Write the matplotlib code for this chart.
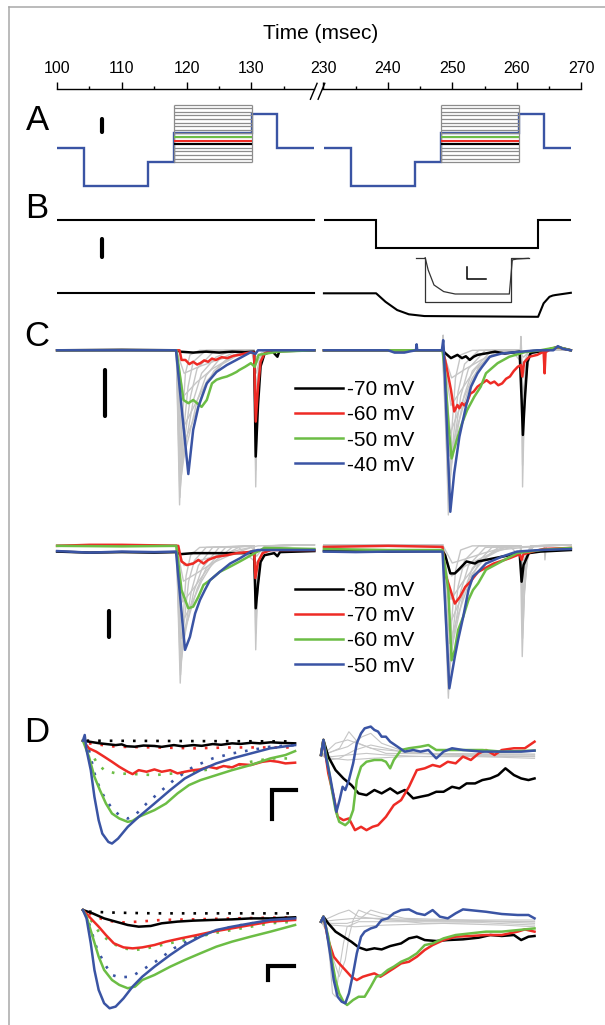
import matplotlib
matplotlib.use("Agg")
import matplotlib.pyplot as plt
from matplotlib.lines import Line2D

plt.rcParams['font.family'] = ['Liberation Sans', 'DejaVu Sans']

W, H = 605, 1025
BLUE = '#3a54a4'
RED = '#ee2b25'
GREEN = '#6cbd45'
GRAY = '#c6c6c6'
BOXGRAY = '#8c8c8c'

# ---------------- time axis ----------------
left_major = [100, 110, 120, 130]
left_minor = [105, 115, 125, 135]
right_major = [230, 240, 250, 260, 270]
right_minor = [235, 245, 255, 265]

# ---------------- A: command protocol (mV) ----------------
a_left_edges = [100, 104.1, 114.1, 118.1, 130.0, 133.9, 139.7]
a_right_edges = [230.1, 234.2, 244.2, 248.2, 260.2, 264.0, 268.2]
a_levels = [-80, -185, -120, -40, 15, -80]
a_box_left = (118.1, 130.1)
a_box_right = (248.2, 260.2)
a_grid_levels = [-120, -110, -100, -90, -80, -70, -60, -50, -40, -30, -20, -10, 0, 10, 20, 30, 40]
a_color_levels = [-70, -60, -50]
a_color_names = ['black', RED, GREEN]
a_bar = (107.0, 0, -35)

# ---------------- B ----------------
b_cmd_right_edges = [230.1, 238.15, 263.15, 268.2]
b_cmd_levels = [0, -14.8, 0]
b_bar = (107.0, -10, -20)
b_cur_right = [(230.1, 0), (238.15, 0), (239.6, -34), (241.4, -67), (243.2, -84), (245.6, -91),
               (263.15, -94), (264.0, -40), (264.9, -14), (265.4, -9), (265.8, -7), (268.2, 2)]
inset_cmd = [(0, 0), (1.86, 0), (1.86, -1), (19.06, -1), (19.06, 0), (22.7, 0)]
inset_cur = [(1.86, 0), (2.46, -0.28), (3.62, -0.62), (5.56, -0.77), (7.86, -0.825), (18.7, -0.825),
             (19.3, -0.05), (20.2, -0.03), (22.5, -0.014)]
inset_bar = [(14.0, -0.49), (10.3, -0.49), (10.3, -0.22)]

# ---------------- C top (nA) ----------------
ct_bar = (107.4, -0.43, -1.43)
ct_l_black = [(100, 0), (110, 0.01), (118.5, 0), (119, -0.03), (121, -0.05), (123, -0.03), (125, -0.05),
              (127, -0.03), (129, -0.04), (130.4, -0.03), (130.65, -2.31), (131.0, -1.2), (131.4, -0.35),
              (132.0, -0.08), (133.2, -0.02), (134.0, -0.14), (134.3, -0.02), (139.7, 0)]
ct_l_red = [(100, 0), (118.9, 0), (119.2, -0.21), (119.8, -0.21), (120.4, -0.3), (121.0, -0.25), (121.6, -0.31),
            (122.1, -0.28), (122.7, -0.22), (123.3, -0.25), (123.9, -0.18), (124.5, -0.21), (125.4, -0.15),
            (126.3, -0.17), (127.2, -0.12), (128.1, -0.10), (129.6, -0.05), (130.4, -0.05),
            (130.65, -1.55), (131.0, -0.8), (131.4, -0.25), (132.0, -0.07), (133, 0), (139.7, 0)]
ct_l_green = [(100, 0), (118.4, 0), (119.5, -1.08), (120.25, -1.15), (121.0, -1.08), (122.3, -1.23),
              (123.1, -1.08), (123.9, -0.72), (124.6, -0.64), (125.4, -0.6), (126.2, -0.57), (127.0, -0.52),
              (127.7, -0.47), (128.1, -0.43), (129.0, -0.36), (129.9, -0.28), (130.5, -0.36), (131.1, -0.10),
              (134, -0.03), (139.7, 0)]
ct_l_blue = [(100, 0), (118.35, 0), (119.2, -1.23), (120.25, -2.69), (121.0, -1.73), (121.8, -1.23),
             (123.1, -0.72), (124.6, -0.47), (126.2, -0.32), (128.2, -0.17), (129.9, -0.04), (130.6, -0.08),
             (131.0, 0), (139.7, 0)]
ct_l_gray = [
    [(100, 0), (118.4, 0), (118.9, -3.36), (119.3, -1.6), (119.8, -0.5), (120.5, -0.1), (122, 0), (130.4, 0),
     (130.65, -2.97), (130.9, -1.4), (131.3, -0.35), (132, 0), (139.7, 0)],
    [(100, 0), (118.4, 0), (118.95, -3.2), (119.5, -1.8), (120.2, -0.8), (121.0, -0.25), (123, 0), (130.4, 0),
     (130.65, -2.6), (130.9, -1.2), (131.3, -0.3), (132, 0), (139.7, 0)],
    [(100, 0), (118.4, 0), (119.0, -3.0), (119.7, -1.9), (120.6, -1.0), (121.6, -0.4), (124, -0.05), (126, 0),
     (130.4, 0), (130.65, -2.2), (130.95, -1.0), (131.4, -0.25), (132.2, 0), (139.7, 0)],
    [(100, 0), (118.4, 0), (119.1, -2.8), (119.9, -2.0), (121.0, -1.1), (122.3, -0.5), (124.5, -0.15), (127, 0),
     (130.4, 0), (130.7, -1.7), (131.0, -0.8), (131.5, -0.2), (132.3, 0), (139.7, 0)],
    [(100, 0), (118.4, 0), (119.2, -2.5), (120.3, -1.9), (121.6, -1.1), (123.0, -0.55), (125, -0.2), (128, 0),
     (130.4, 0), (130.7, -1.2), (131.0, -0.6), (131.6, -0.15), (132.5, 0), (139.7, 0)],
    [(100, 0), (118.4, 0), (119.3, -2.1), (120.8, -1.6), (122.5, -0.9), (124.2, -0.45), (126.5, -0.15),
     (129.5, 0), (130.4, 0), (130.7, -0.8), (131.1, -0.4), (131.7, -0.1), (132.6, 0), (139.7, 0)],
    [(100, 0), (118.4, 0), (119.4, -1.7), (121.2, -1.2), (123.2, -0.65), (125.5, -0.3), (128, -0.1), (130, 0),
     (130.7, -0.5), (131.2, -0.25), (132, -0.05), (133, 0), (139.7, 0)],
    [(100, 0), (118.4, 0), (119.5, -1.0), (121.5, -0.7), (124, -0.4), (127, -0.15), (130, 0), (130.7, -0.3),
     (131.3, -0.15), (132.5, 0), (139.7, 0)],
    [(100, 0), (118.4, 0), (119.6, -0.5), (122, -0.35), (125, -0.2), (128, -0.08), (130, 0), (130.8, -0.15),
     (132, 0), (139.7, 0)],
]
ct_r_black = [(230.1, 0), (240, 0), (248.4, 0), (248.8, -0.06), (249.7, -0.17), (250.7, -0.10), (251.4, -0.17),
              (252.0, -0.13), (252.6, -0.21), (253.2, -0.14), (253.8, -0.10), (255.0, -0.07), (256.5, -0.03),
              (258.0, -0.07), (260.3, -0.03), (260.6, -1.07), (260.8, -1.84), (261.1, -1.07), (261.5, -0.25),
              (262.0, -0.06), (264, -0.01), (266.2, 0.07), (268.2, 0)]
ct_r_red = [(230.1, 0), (248.4, 0), (248.8, -0.21), (249.7, -0.86), (250.2, -1.33), (250.7, -1.19),
            (251.0, -1.26), (251.4, -1.15), (251.8, -1.2), (252.2, -1.12), (252.7, -0.94), (253.2, -0.9),
            (253.8, -0.79), (254.5, -0.72), (255.2, -0.65), (255.8, -0.72), (256.4, -0.68), (257.0, -0.76),
            (257.6, -0.72), (258.2, -0.62), (258.8, -0.57), (259.4, -0.45), (260.0, -0.36), (260.5, -0.32),
            (260.7, -0.57), (261.0, -0.26), (261.8, -0.14), (263.0, -0.10), (264.0, -0.03), (264.15, -0.5),
            (264.3, -0.04), (264.8, 0), (266.0, 0.07), (268.2, 0)]
ct_r_green = [(230.1, 0), (248.4, 0), (248.8, -0.5), (249.3, -1.59), (249.8, -2.35), (250.6, -1.95),
              (251.4, -1.59), (252.2, -1.3), (253.3, -1.01), (254.3, -0.79), (255.1, -0.5), (256.9, -0.28),
              (258.7, -0.14), (261.1, -0.04), (263.5, 0), (266.2, 0.07), (268.2, 0)]
ct_r_blue = [(230.1, 0), (240.0, 0), (241.0, -0.05), (242.5, -0.05), (243.5, -0.02), (244.3, 0), (244.4, 0.13),
             (244.5, 0), (248.3, 0), (248.5, 0.22), (248.6, 0), (249.6, -3.51), (250.2, -2.67), (251.0, -1.88),
             (252.0, -1.23), (252.8, -0.79), (253.8, -0.5), (254.5, -0.36), (255.7, -0.14), (257.5, -0.07),
             (260.5, -0.03), (263, 0), (265.5, 0), (266.2, 0.09), (267, 0.03), (268.2, 0)]
ct_r_gray = [
    [(230.1, 0), (248.4, 0), (248.5, 0.33), (248.6, 0), (249.3, -3.58), (249.8, -1.8), (250.4, -0.6),
     (251.2, -0.1), (253, 0), (260.4, 0), (260.5, 0.3), (260.6, 0), (260.75, -2.97), (261.0, -1.4),
     (261.4, -0.35), (262.2, 0), (268.2, 0)],
    [(230.1, 0), (248.4, 0), (249.35, -3.3), (250.0, -2.0), (250.8, -0.9), (251.8, -0.3), (254, 0), (260.5, 0),
     (260.75, -2.5), (261.05, -1.1), (261.5, -0.3), (262.3, 0), (268.2, 0)],
    [(230.1, 0), (248.4, 0), (249.4, -3.0), (250.2, -2.0), (251.2, -1.0), (252.4, -0.4), (255, 0), (260.5, 0),
     (260.8, -2.0), (261.1, -0.9), (261.6, -0.25), (262.4, 0), (268.2, 0)],
    [(230.1, 0), (248.4, 0), (249.45, -2.7), (250.5, -1.9), (251.7, -1.0), (253.0, -0.45), (256, 0), (260.5, 0),
     (260.8, -1.5), (261.1, -0.7), (261.7, -0.2), (262.5, 0), (268.2, 0)],
    [(230.1, 0), (248.4, 0), (249.5, -2.3), (250.8, -1.6), (252.3, -0.9), (254, -0.35), (257, 0), (260.5, 0),
     (260.8, -1.0), (261.2, -0.5), (261.8, -0.1), (262.6, 0), (268.2, 0)],
    [(230.1, 0), (248.4, 0), (249.6, -1.8), (251.2, -1.2), (253, -0.6), (255, -0.2), (258, 0), (260.5, 0),
     (260.85, -0.6), (261.3, -0.3), (262, -0.05), (263, 0), (268.2, 0)],
    [(230.1, 0), (248.4, 0), (249.7, -1.2), (251.6, -0.8), (253.5, -0.4), (256, -0.1), (259, 0), (260.85, -0.3),
     (261.5, -0.1), (263, 0), (268.2, 0)],
    [(230.1, 0), (248.4, 0), (249.8, -0.6), (252, -0.4), (254.5, -0.2), (257, -0.05), (260, 0), (260.9, -0.15),
     (262, 0), (268.2, 0)],
]
ct_labels = ['-70 mV', '-60 mV', '-50 mV', '-40 mV']

# ---------------- C bottom (nA) ----------------
cb_bar = (108.0, -1.17, -1.67)
cb_l_black = [(100, -0.03), (105, -0.05), (110, -0.04), (115, -0.05), (118.4, -0.04), (119, -0.08),
              (121, -0.06), (125, -0.06), (129, -0.06), (130.4, -0.06), (130.65, -1.12), (131.0, -0.67),
              (131.4, -0.23), (132.0, -0.1), (133.5, -0.06), (134.0, -0.12), (134.4, -0.04), (139.7, -0.02)]
cb_l_red = [(100, 0.08), (105, 0.1), (110, 0.1), (115, 0.09), (118.7, 0.08), (119.2, -0.22), (120.0, -0.29),
            (121.0, -0.26), (121.8, -0.19), (122.6, -0.26), (123.3, -0.19), (124.6, -0.13), (126.2, -0.1),
            (127.7, -0.06), (129.5, -0.04), (130.4, -0.02), (130.6, -0.54), (131.0, -0.23), (131.7, -0.06),
            (133, 0), (139.7, 0)]
cb_l_green = [(100, 0.08), (110, 0.07), (118.4, 0.08), (119.2, -0.77), (120.25, -1.12), (121.0, -1.09),
              (121.8, -0.9), (122.6, -0.67), (123.6, -0.58), (125.1, -0.42), (126.7, -0.32), (128.2, -0.22),
              (129.5, -0.13), (130.5, -0.06), (132, 0.04), (139.7, 0.02)]
cb_l_blue = [(100, -0.02), (105, -0.05), (110, -0.03), (115, -0.04), (118.35, -0.03), (119.5, -1.6),
             (119.74, -1.92), (120.5, -1.67), (121.3, -1.22), (122.05, -0.96), (122.8, -0.77), (123.6, -0.58),
             (125.1, -0.42), (126.7, -0.26), (128.2, -0.16), (129.9, -0.03), (131, 0), (139.7, 0)]
cb_l_gray = [
    [(100, 0.1), (118.4, 0.1), (119.0, -2.56), (119.4, -1.4), (119.9, -0.5), (120.6, -0.1), (122, 0.05),
     (130.4, 0.08), (130.65, -1.92), (130.9, -0.9), (131.3, -0.2), (132, 0.08), (139.7, 0.1)],
    [(100, 0.1), (118.4, 0.1), (119.05, -2.4), (119.6, -1.4), (120.3, -0.6), (121.2, -0.2), (123, 0.05),
     (130.4, 0.08), (130.65, -1.6), (130.95, -0.75), (131.4, -0.15), (132.2, 0.08), (139.7, 0.1)],
    [(100, 0.1), (118.4, 0.1), (119.1, -2.2), (119.8, -1.5), (120.7, -0.8), (121.8, -0.3), (124, 0.05),
     (130.4, 0.08), (130.7, -1.3), (131.0, -0.6), (131.5, -0.12), (132.3, 0.08), (139.7, 0.1)],
    [(100, 0.1), (118.4, 0.1), (119.15, -2.0), (120.0, -1.45), (121.1, -0.8), (122.4, -0.35), (125, 0.05),
     (130.4, 0.08), (130.7, -1.0), (131.1, -0.45), (131.6, -0.1), (132.4, 0.08), (139.7, 0.1)],
    [(100, 0.1), (118.4, 0.1), (119.2, -1.7), (120.3, -1.3), (121.6, -0.75), (123.0, -0.35), (126, 0.05),
     (130.4, 0.08), (130.75, -0.7), (131.2, -0.3), (131.8, -0.05), (132.6, 0.08), (139.7, 0.1)],
    [(100, 0.1), (118.4, 0.1), (119.3, -1.4), (120.7, -1.05), (122.3, -0.6), (124, -0.25), (127, 0.05),
     (130.4, 0.08), (130.75, -0.45), (131.3, -0.2), (132, 0), (133, 0.08), (139.7, 0.1)],
    [(100, 0.1), (118.4, 0.1), (119.4, -1.0), (121, -0.75), (123, -0.4), (125, -0.15), (128, 0.05),
     (130.8, -0.25), (131.5, -0.1), (133, 0.08), (139.7, 0.1)],
    [(100, 0.1), (118.4, 0.1), (119.5, -0.6), (121.5, -0.45), (124, -0.25), (127, -0.08), (130, 0.05),
     (130.8, -0.12), (132, 0.08), (139.7, 0.1)],
    [(100, 0.1), (118.4, 0.1), (119.6, -0.3), (122, -0.2), (125, -0.1), (128, 0), (131, 0.08), (139.7, 0.1)],
]
cb_r_black = [(230.1, -0.02), (240, -0.03), (248.4, -0.02), (248.8, -0.1), (249.6, -0.45), (250.3, -0.45),
              (251.1, -0.35), (252.1, -0.22), (253.4, -0.26), (253.9, -0.22), (256.3, -0.16), (258.7, -0.1),
              (260.3, -0.06), (260.6, -0.61), (260.9, -0.29), (261.7, -0.06), (263.5, -0.03), (268.2, 0)]
cb_r_red = [(230.1, 0.06), (240, 0.08), (248.4, 0.06), (248.8, -0.45), (250.3, -1.03), (251.1, -0.9),
            (251.9, -0.71), (252.7, -0.61), (253.5, -0.48), (253.9, -0.42), (256.3, -0.26), (258.7, -0.16),
            (260.3, -0.08), (260.6, -0.19), (260.9, -0.08), (262.3, -0.03), (264, 0.02), (268.2, 0.04)]
cb_r_green = [(230.1, 0.02), (240, 0), (248.4, 0), (249.3, -0.77), (249.8, -2.12), (250.3, -1.92),
              (250.8, -1.54), (251.6, -1.28), (252.4, -0.96), (253.1, -0.77), (253.9, -0.64), (255.1, -0.38),
              (257.5, -0.22), (259.9, -0.06), (263.5, 0), (268.2, 0.04)]
cb_r_blue = [(230.1, -0.03), (235, -0.04), (240, -0.03), (245, -0.03), (248.4, -0.03), (249.45, -2.66),
             (250.3, -2.05), (250.8, -1.73), (251.6, -1.28), (252.4, -0.77), (253.1, -0.51), (253.9, -0.42),
             (255.1, -0.26), (257.5, -0.13), (259.9, -0.03), (263.5, 0), (268.2, 0.02)]
cb_r_gray = [
    [(230.1, 0.1), (248.4, 0.1), (249.3, -2.85), (249.8, -1.4), (250.4, -0.4), (251.2, 0), (253, 0.08),
     (260.4, 0.08), (260.7, -2.05), (261.0, -0.9), (261.4, -0.2), (262.2, 0.08), (264.1, 0.08), (264.2, -0.19),
     (264.4, 0.08), (268.2, 0.1)],
    [(230.1, 0.1), (248.4, 0.1), (249.35, -2.6), (250.0, -1.6), (250.8, -0.7), (251.8, -0.2), (254, 0.08),
     (260.5, 0.08), (260.75, -1.7), (261.05, -0.8), (261.5, -0.15), (262.3, 0.08), (268.2, 0.1)],
    [(230.1, 0.1), (248.4, 0.1), (249.4, -2.35), (250.2, -1.6), (251.2, -0.8), (252.4, -0.3), (255, 0.05),
     (260.5, 0.08), (260.8, -1.3), (261.1, -0.6), (261.6, -0.1), (262.4, 0.08), (268.2, 0.1)],
    [(230.1, 0.1), (248.4, 0.1), (249.45, -2.1), (250.5, -1.5), (251.7, -0.8), (253.0, -0.35), (256, 0.05),
     (260.5, 0.08), (260.8, -0.9), (261.1, -0.4), (261.7, -0.05), (262.5, 0.08), (268.2, 0.1)],
    [(230.1, 0.1), (248.4, 0.1), (249.5, -1.8), (250.8, -1.25), (252.3, -0.7), (254, -0.25), (257, 0.05),
     (260.5, 0.08), (260.8, -0.6), (261.2, -0.25), (262, 0.08), (268.2, 0.1)],
    [(230.1, 0.1), (248.4, 0.1), (249.6, -1.4), (251.2, -0.95), (253, -0.45), (255, -0.15), (258, 0.05),
     (260.5, 0.08), (260.85, -0.35), (261.5, -0.1), (262.5, 0.08), (268.2, 0.1)],
    [(230.1, 0.1), (248.4, 0.1), (249.7, -0.95), (251.6, -0.6), (253.5, -0.3), (256, -0.05), (259, 0.05),
     (260.9, -0.2), (262, 0.08), (268.2, 0.1)],
    [(230.1, 0.1), (248.4, 0.1), (249.8, -0.5), (252, -0.3), (254.5, -0.15), (257, 0), (261, 0.05), (268.2, 0.1)],
    [(230.1, 0.1), (248.4, 0.1), (249.9, -0.25), (252.5, -0.15), (255, -0.05), (258, 0.05), (268.2, 0.1)],
]
cb_labels = ['-80 mV', '-70 mV', '-60 mV', '-50 mV']

# ---------------- D top (pA, ms) ----------------
d1_bar = [(17.6, -337), (15.6, -337), (15.6, -537)]
d1l_black = [(0, 0), (1.4, -18), (2.7, -30), (3.2, -25), (3.6, -38), (4.3, -41), (5.0, -33), (5.9, -36),
             (6.5, -42), (7.5, -30), (8.2, -38), (9.1, -30), (9.8, -35), (10.7, -23), (11.4, -28), (12.3, -18),
             (13.0, -22), (13.9, -14), (14.6, -18), (15.5, -11), (16.4, -15), (17.5, -18)]
d1l_black_fit = [(0.3, 0), (17.5, -5)]
d1l_red = [(0, 0), (0.5, -52), (1.1, -75), (1.75, -109), (2.4, -144), (3.0, -178), (3.7, -212), (4.1, -228),
           (4.6, -201), (5.25, -212), (5.9, -196), (6.5, -212), (7.2, -201), (7.8, -223), (8.4, -212),
           (9.1, -201), (9.7, -196), (10.35, -178), (11.0, -189), (11.6, -173), (12.3, -182), (12.9, -160),
           (13.85, -166), (14.8, -144), (15.45, -137), (16.1, -144), (16.7, -155), (17.5, -150)]
d1l_red_fit = [(0.5, -18), (2.7, -41), (5.9, -46), (9.1, -52), (12.3, -46), (15.45, -46), (17.5, -46)]
d1l_green = [(0, 0), (0.5, -109), (0.95, -246), (1.4, -337), (1.9, -429), (2.4, -497), (3.0, -531),
             (3.7, -554), (4.1, -547), (4.6, -520), (5.25, -497), (5.9, -474), (6.85, -429), (7.8, -360),
             (8.75, -303), (9.7, -269), (11.0, -235), (12.3, -201), (13.85, -166), (15.45, -121), (16.7, -98),
             (17.5, -71)]
d1l_green_fit = [(0.5, -52), (1.1, -144), (1.75, -201), (2.7, -223), (4.3, -228), (5.9, -235), (7.5, -223),
                 (9.1, -212), (11.0, -189), (12.3, -178), (13.85, -144), (15.45, -121), (17.5, -121)]
d1l_blue = [(0, 0), (0.15, 39), (0.3, -64), (0.65, -201), (0.95, -383), (1.3, -543), (1.6, -634),
            (2.1, -691), (2.4, -702), (2.9, -668), (3.7, -588), (4.6, -520), (5.9, -429), (7.2, -337),
            (8.4, -258), (9.7, -201), (11.0, -155), (12.3, -121), (13.85, -87), (15.45, -52), (17.5, -30)]
d1l_blue_fit = [(0.5, -64), (1.1, -269), (1.75, -383), (2.4, -463), (3.0, -508), (3.7, -531), (4.3, -508),
                (5.25, -429), (6.2, -360), (7.5, -269), (9.1, -178), (10.7, -121), (12.3, -87), (13.85, -64),
                (15.45, -41), (17.5, -30)]
d1r_gray = [
    [(0, 0), (0.57, 11), (1.53, 46), (2.3, 159), (3.1, 80), (4.1, 46), (5.35, 34), (8.5, 11), (11.7, 0), (17.6, 0)],
    [(0, 0), (0.9, 23), (2.2, 57), (3.4, 125), (4.1, 148), (5.0, 80), (6.9, 23), (10.1, 0), (17.6, -11)],
    [(0, 0), (0.9, -11), (2.2, 0), (3.75, 11), (5.35, 0), (8.5, -11), (17.6, -11)],
    [(0, 0), (0.7, -34), (1.5, -23), (2.8, 34), (4.1, 68), (5.35, 46), (7.25, 11), (17.6, 7)],
    [(0, 0), (0.9, -23), (2.2, -34), (4.1, -23), (6.9, -11), (11.7, -7), (17.6, -23)],
    [(0, 0), (0.6, 34), (1.2, 80), (2.2, 103), (3.4, 68), (5.35, 11), (17.6, 0)],
]
d1r_black = [(0, 0), (0.2, 103), (0.6, -11), (1.2, -103), (1.85, -160), (2.5, -205), (3.1, -262), (3.75, -274),
             (4.4, -239), (5.0, -262), (5.7, -228), (6.3, -262), (6.9, -239), (7.6, -296), (8.2, -285),
             (8.85, -274), (9.5, -251), (10.1, -251), (10.8, -217), (11.4, -228), (12.0, -194), (12.7, -194),
             (13.3, -171), (13.95, -160), (14.6, -137), (15.2, -91), (15.9, -137), (16.5, -160), (17.1, -171),
             (17.6, -160)]
d1r_red = [(0, 0), (0.2, 103), (0.6, -125), (1.05, -285), (1.37, -422), (1.85, -445), (2.3, -433), (2.8, -513),
           (3.3, -490), (3.75, -513), (4.25, -490), (4.7, -479), (5.35, -422), (6.0, -342), (6.6, -308),
           (7.25, -217), (7.9, -103), (8.55, -91), (9.2, -68), (9.8, -80), (10.45, -46), (11.1, -57), (11.7, -11),
           (12.35, -34), (13.0, 11), (13.6, 34), (14.3, 0), (14.9, 34), (15.9, 46), (16.8, 46), (17.6, 91)]
d1r_green = [(0, 0), (0.2, 103), (0.6, -80), (0.9, -239), (1.2, -376), (1.5, -456), (2.0, -479), (2.3, -456),
             (2.65, -376), (2.95, -171), (3.3, -80), (3.75, -46), (4.4, -34), (5.0, -34), (5.35, -46),
             (5.7, -91), (6.0, -34), (6.6, 34), (7.25, 46), (8.2, 57), (8.85, 68), (9.5, 34), (11.7, 34),
             (13.3, 34), (14.9, 23), (17.6, 30)]
d1r_blue = [(0, 0), (0.2, 103), (0.4, -11), (0.75, -148), (1.05, -285), (1.27, -388), (1.53, -308),
            (1.78, -217), (2.0, -239), (2.3, -171), (2.65, -57), (2.95, 80), (3.3, 148), (3.6, 182), (4.1, 194),
            (4.4, 171), (4.7, 160), (5.0, 125), (5.35, 125), (5.7, 91), (6.3, 57), (6.9, 23), (7.6, 34),
            (8.2, 23), (8.85, 34), (9.5, -23), (10.1, 23), (10.8, 46), (11.7, 34), (13.3, 23), (14.9, 23),
            (16.5, 23), (17.6, 30)]

# ---------------- D bottom (pA, ms) ----------------
d2_bar = [(17.4, -400), (15.3, -400), (15.3, -500)]
d2l_black = [(0, 0), (0.8, -24), (1.75, -60), (2.7, -83), (3.7, -107), (4.6, -119), (5.6, -114), (6.5, -95),
             (7.8, -83), (9.1, -76), (10.7, -71), (12.3, -67), (13.85, -60), (15.45, -60), (17.5, -52)]
d2l_black_fit = [(0.5, -12), (2.7, -19), (5.9, -24), (9.1, -24), (12.3, -24), (17.5, -24)]
d2l_red = [(0, 0), (0.65, -60), (1.3, -119), (1.9, -179), (2.55, -238), (3.35, -267), (4.1, -274), (4.9, -267),
           (5.9, -250), (6.85, -226), (8.1, -202), (9.4, -179), (10.7, -155), (12.3, -131), (13.85, -107),
           (15.45, -83), (17.5, -71)]
d2l_red_fit = [(0.5, -24), (1.75, -71), (3.0, -90), (4.6, -83), (6.5, -71), (9.1, -67), (12.3, -60), (17.5, -52)]
d2l_green = [(0, 0), (0.3, -48), (0.8, -190), (1.3, -333), (1.75, -428), (2.4, -500), (3.0, -535), (3.7, -559),
             (4.3, -547), (4.9, -500), (5.9, -464), (7.2, -405), (8.4, -357), (9.7, -309), (11.0, -262),
             (12.3, -226), (13.85, -190), (15.45, -155), (17.5, -107)]
d2l_green_fit = [(0.65, -71), (1.4, -167), (2.4, -238), (3.35, -274), (4.3, -286), (5.25, -274), (6.5, -250),
                 (7.8, -226), (9.1, -202), (10.7, -167), (12.3, -143), (13.85, -119), (15.45, -95), (17.5, -83)]
d2l_blue = [(0, 0), (0.3, -60), (0.65, -238), (0.95, -428), (1.3, -571), (1.75, -666), (2.2, -702),
            (2.7, -690), (3.35, -631), (4.1, -547), (4.9, -476), (5.9, -405), (7.2, -321), (8.4, -250),
            (9.7, -190), (11.0, -143), (12.3, -119), (13.85, -95), (15.45, -71), (17.5, -60)]
d2l_blue_fit = [(0.5, -95), (1.1, -262), (1.75, -381), (2.4, -464), (3.0, -481), (4.0, -476), (4.9, -428),
                (6.2, -357), (7.5, -274), (9.1, -202), (10.7, -155), (12.3, -119), (13.85, -95), (17.5, -71)]
d2r_gray = [
    [(0, 0), (0.4, -36), (0.73, -274), (0.95, -512), (1.2, -536), (1.5, -345), (1.85, -155), (2.15, -36),
     (3.1, 0), (17.6, 0)],
    [(0, 0), (0.57, -83), (1.05, -274), (1.5, -393), (2.0, -274), (2.3, -107), (2.65, 12), (3.1, 83),
     (3.75, 60), (5.35, 24), (8.5, 12), (17.6, 12)],
    [(0, 0), (0.9, -12), (2.15, -12), (3.1, 12), (4.1, 83), (5.0, 60), (6.9, 24), (11.7, 12), (17.6, -12)],
    [(0, 0), (1.2, 12), (2.8, 24), (4.7, 24), (8.5, -12), (13.3, -7), (17.6, -24)],
    [(0, 0), (0.9, -24), (2.8, -36), (5.35, -24), (10.1, -12), (14.9, -24), (17.6, -36)],
    [(0, 0), (0.57, 24), (1.5, 60), (2.3, 83), (3.1, 36), (5.35, 12), (17.6, 0)],
]
d2r_black = [(0, 0), (0.2, 36), (0.6, -12), (1.2, -71), (1.85, -107), (2.5, -143), (3.1, -183), (3.75, -202),
             (4.4, -190), (5.0, -198), (5.7, -174), (6.6, -155), (7.25, -119), (7.9, -107), (8.55, -131),
             (9.5, -138), (10.45, -131), (11.7, -126), (13.0, -114), (13.95, -95), (14.9, -102), (15.9, -95),
             (16.5, -131), (17.1, -107), (17.6, -102)]
d2r_red = [(0, 0), (0.2, 36), (0.6, -131), (1.05, -250), (1.5, -298), (2.0, -345), (2.5, -393), (2.95, -417),
           (3.45, -393), (3.9, -381), (4.4, -369), (4.9, -393), (5.35, -369), (6.0, -333), (6.6, -298),
           (7.25, -286), (7.9, -250), (8.55, -202), (9.2, -167), (10.1, -131), (11.1, -107), (12.35, -102),
           (13.6, -95), (14.9, -95), (16.2, -71), (16.8, -55), (17.6, -71)]
d2r_green = [(0, 0), (0.2, 36), (0.6, -107), (0.9, -274), (1.2, -417), (1.5, -512), (1.85, -571), (2.15, -595),
             (2.65, -559), (3.1, -536), (3.6, -536), (4.1, -464), (4.55, -393), (5.0, -381), (5.5, -345),
             (6.0, -321), (6.6, -286), (7.25, -262), (7.9, -226), (8.55, -167), (9.2, -155), (10.1, -119),
             (11.1, -95), (12.35, -83), (13.6, -71), (14.9, -71), (16.2, -60), (17.6, -48)]
d2r_blue = [(0, 0), (0.2, 36), (0.4, -36), (0.75, -226), (1.05, -417), (1.37, -536), (1.7, -571), (2.0, -583),
            (2.3, -512), (2.65, -369), (2.95, -226), (3.3, -107), (3.6, -71), (4.1, -48), (4.55, -36), (5.0, 12),
            (5.5, 24), (6.0, 60), (6.6, 83), (7.25, 88), (7.9, 60), (8.55, 48), (9.2, 83), (9.8, 36),
            (10.45, 24), (11.1, 60), (11.7, 88), (12.7, 79), (13.6, 71), (14.9, 55), (16.2, 48), (17.1, 48),
            (17.6, 24)]

# ================= drawing =================
fig = plt.figure(figsize=(W / 100, H / 100), dpi=100)


def add_ax(x0, x1, y0, y1, xlim, ylim):
    ax = fig.add_axes([x0 / W, 1 - y1 / H, (x1 - x0) / W, (y1 - y0) / H])
    ax.set_xlim(*xlim)
    ax.set_ylim(*ylim)
    ax.set_axis_off()
    return ax


def draw(ax, pts, **kw):
    t, v = zip(*pts)
    ax.plot(t, v, clip_on=False, **kw)


def vbar(ax, bar, lw=3.0):
    x, y0, y1 = bar
    ax.plot([x, x], [y0, y1], color='black', lw=lw, solid_capstyle='round', clip_on=False)


LCOL = (57.1, 316.3)
RCOL = (323.3, 582.5)

# outer frame (left + top edges visible)
frame = fig.add_axes([8.5 / W, 0, 1 - 8.5 / W, 1 - 7.3 / H])
frame.set_xticks([])
frame.set_yticks([])
frame.patch.set_alpha(0)
for side in ['right', 'bottom']:
    frame.spines[side].set_visible(False)
for side in ['left', 'top']:
    frame.spines[side].set_color('#a8a8a8')
    frame.spines[side].set_linewidth(1.1)

# time axis
for (x0, x1, lim, major, minor) in [(57.1, 314.0, (100, 139.65), left_major, left_minor),
                                    (322.0, 581.4, (229.8, 270), right_major, right_minor)]:
    tax = fig.add_axes([x0 / W, 1 - 100 / H, (x1 - x0) / W, 10.7 / H])
    tax.set_xlim(*lim)
    tax.patch.set_alpha(0)
    for side in ['left', 'right', 'bottom']:
        tax.spines[side].set_visible(False)
    tax.spines['top'].set_linewidth(1.0)
    tax.xaxis.tick_top()
    tax.set_xticks(major)
    tax.set_xticks(minor, minor=True)
    tax.set_yticks([])
    tax.tick_params(axis='x', which='major', direction='out', length=4.8, width=1.0, pad=5, labelsize=11.5)
    tax.tick_params(axis='x', which='minor', direction='out', length=2.4, width=1.0)
    if lim[0] == 100:
        for dx in (0.0, 0.03):
            tax.plot([0.986 + dx, 1.012 + dx], [0.07, 1.56], color='black', lw=1.0,
                     transform=tax.transAxes, clip_on=False)
fig.text(320.2 / W, 1 - 33.3 / H, 'Time (msec)', ha='center', va='center', fontsize=15)

# panel letters
for letter, y in [('A', 121), ('B', 209), ('C', 336), ('D', 733)]:
    fig.text(37 / W, 1 - y / H, letter, ha='center', va='center', fontsize=25)

# ---- A ----
for col, edges, box in [(LCOL, a_left_edges, a_box_left), (RCOL, a_right_edges, a_box_right)]:
    xl = (100, 140) if col == LCOL else (230, 270)
    ax = add_ax(col[0], col[1], 95, 195, xl, (-210.8, 66.9))
    ax.hlines(a_grid_levels, box[0], box[1], color=BOXGRAY, lw=0.9)
    ax.vlines(box, a_grid_levels[0], a_grid_levels[-1], color=BOXGRAY, lw=0.9)
    for lev, c in zip(a_color_levels, a_color_names):
        ax.hlines(lev, box[0], box[1], color=c, lw=1.5)
    ax.stairs(a_levels, edges, baseline=None, color=BLUE, lw=1.7)
    if col == LCOL:
        vbar(ax, a_bar)

# ---- B ----
axb1 = add_ax(LCOL[0], LCOL[1], 205, 265, (100, 140), (-24.06, 8.02))
axb1.plot([100, 139.7], [0, 0], color='black', lw=1.5)
vbar(axb1, b_bar)
axb1r = add_ax(RCOL[0], RCOL[1], 205, 265, (230, 270), (-24.06, 8.02))
axb1r.stairs(b_cmd_levels, b_cmd_right_edges, baseline=None, color='black', lw=1.5)
axb2 = add_ax(LCOL[0], LCOL[1], 280, 325, (100, 140), (-126.8, 53.2))
axb2.plot([100, 139.7], [0, 0], color='black', lw=1.5)
axb2r = add_ax(RCOL[0], RCOL[1], 280, 325, (230, 270), (-126.8, 53.2))
draw(axb2r, b_cur_right, color='black', lw=1.5)
axi = add_ax(415.9, 529.3, 257.7, 301.7, (0, 22.7), (-1, 0))
draw(axi, inset_cmd, color='#333333', lw=0.9)
draw(axi, inset_cur, color='#333333', lw=0.9)
draw(axi, inset_bar, color='black', lw=1.1)

# ---- C ----
C_ROWS = [
    ((330, 520), (-3.689, 0.441), ct_bar,
     [ct_l_gray, ct_l_black, ct_l_red, ct_l_green, ct_l_blue],
     [ct_r_gray, ct_r_black, ct_r_red, ct_r_green, ct_r_blue], ct_labels, 380),
    ((530, 710), (-3.077, 0.385), cb_bar,
     [cb_l_gray, cb_l_black, cb_l_red, cb_l_green, cb_l_blue],
     [cb_r_gray, cb_r_black, cb_r_red, cb_r_green, cb_r_blue], cb_labels, 581),
]
for (ypx, ylim, bar, ltr, rtr, labels, leg_top) in C_ROWS:
    for col, xl, traces in [(LCOL, (100, 140), ltr), (RCOL, (230, 270), rtr)]:
        ax = add_ax(col[0], col[1], ypx[0], ypx[1], xl, ylim)
        for g in traces[0]:
            draw(ax, g, color=GRAY, lw=1.0)
        for pts, c in zip(traces[1:], ['black', RED, GREEN, BLUE]):
            draw(ax, pts, color=c, lw=1.8)
        if col == LCOL:
            vbar(ax, bar)
    handles = [Line2D([], [], color=c, lw=1.8) for c in ['black', RED, GREEN, BLUE]]
    fig.legend(handles, labels, loc='upper left', bbox_to_anchor=(295.1 / W, 1 - leg_top / H),
               frameon=False, fontsize=15, handlelength=2.3, handletextpad=0.2,
               labelspacing=0.3, borderpad=0, borderaxespad=0)

# ---- D ----
DOT = (0, (1.0, 3.4))
D_ROWS = [
    ((700, 860), (-814.3, 277.8), (-716.7, 375.4), d1_bar,
     [d1l_black, d1l_red, d1l_green, d1l_blue], [d1l_black_fit, d1l_red_fit, d1l_green_fit, d1l_blue_fit],
     d1r_gray, [d1r_black, d1r_red, d1r_green, d1r_blue]),
    ((880, 1020), (-785.7, 214.3), (-702.1, 297.9), d2_bar,
     [d2l_black, d2l_red, d2l_green, d2l_blue], [d2l_black_fit, d2l_red_fit, d2l_green_fit, d2l_blue_fit],
     d2r_gray, [d2r_black, d2r_red, d2r_green, d2r_blue]),
]
for (ypx, ylim_l, ylim_r, bar, lsol, lfit, rgray, rsol) in D_ROWS:
    axl = add_ax(82.9, 295.1, ypx[0], ypx[1], (0, 17.5), ylim_l)
    for pts, c in zip(lfit, ['black', RED, GREEN, BLUE]):
        draw(axl, pts, color=c, lw=1.9, ls=DOT)
    for pts, c in zip(lsol, ['black', RED, GREEN, BLUE]):
        draw(axl, pts, color=c, lw=1.8)
    draw(axl, bar, color='black', lw=3.0, solid_joinstyle='miter')
    axr = add_ax(321.0, 534.3, ypx[0], ypx[1], (0, 17.58), ylim_r)
    for g in rgray:
        draw(axr, g, color=GRAY, lw=0.8)
    for pts, c in zip(rsol, ['black', RED, GREEN, BLUE]):
        draw(axr, pts, color=c, lw=1.8)

fig.savefig('out.png', dpi=100)
